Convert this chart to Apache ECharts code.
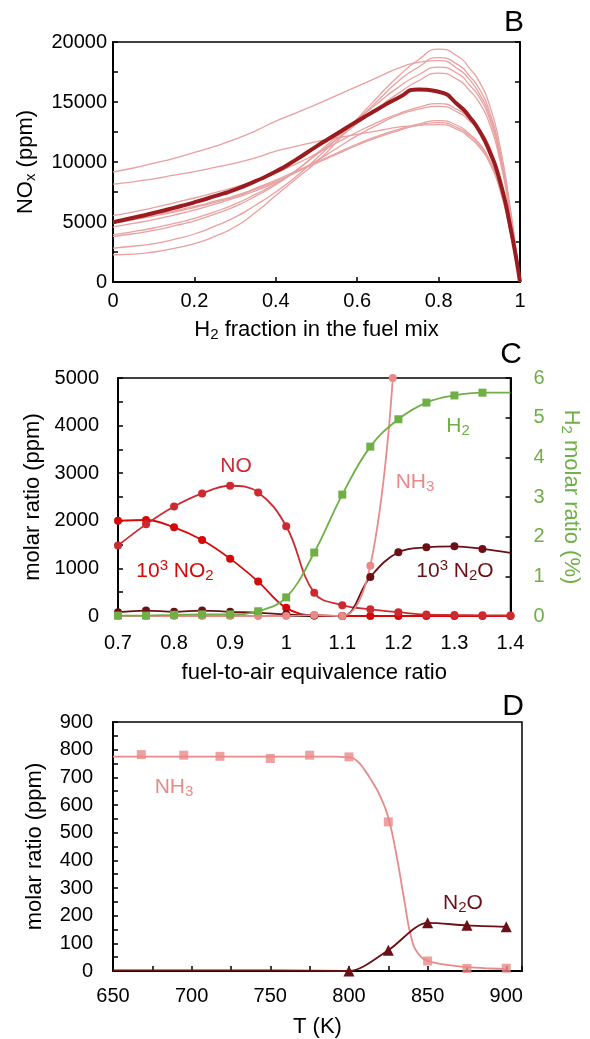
<!DOCTYPE html>
<html>
<head>
<meta charset="utf-8">
<script src="https://cdn.jsdelivr.net/npm/echarts@6/dist/echarts.min.js"></script>
<style>
html,body{margin:0;padding:0;background:#ffffff;}
#chart{width:590px;height:1039px;}
</style>
</head>
<body>
<div id="chart"></div>
<script>
// ---------------- Panel B data (NOx, ppm) ----------------
const h2Fraction = [0, 0.05, 0.1, 0.15, 0.2, 0.25, 0.3, 0.35, 0.4, 0.45, 0.5, 0.55, 0.6, 0.65, 0.7, 0.75, 0.8, 0.85, 0.875, 0.9, 0.925, 0.95, 0.975, 1];
const noxMean  = [4970, 5350, 5750, 6180, 6640, 7150, 7700, 8400, 9200, 10200, 11300, 12350, 13390, 14400, 15330, 16050, 15850, 14700, 13800, 12600, 10900, 8500, 4800, 0];
const noxRun1  = [9170, 9500, 9900, 10300, 10800, 11300, 11900, 12600, 13400, 14100, 14800, 15550, 16300, 17050, 17800, 18300, 18450, 17700, 16900, 15700, 13900, 10800, 6100, 0];
const noxRun2  = [8160, 8350, 8600, 8900, 9200, 9550, 9900, 10350, 10900, 11300, 11700, 12000, 12300, 12600, 12900, 13050, 13120, 12650, 12050, 11250, 9950, 7750, 4350, 0];
const noxRun3  = [5525, 5850, 6200, 6600, 7000, 7450, 7900, 8450, 9100, 9850, 10700, 11600, 12500, 13300, 14000, 14550, 14860, 14300, 13650, 12750, 11300, 8750, 4900, 0];
const noxRun4  = [4580, 4880, 5200, 5580, 6000, 6480, 7000, 7600, 8300, 9150, 10100, 11150, 12200, 13100, 13900, 14400, 14640, 14100, 13450, 12550, 11100, 8600, 4850, 0];
const noxRun5  = [3940, 4200, 4500, 4880, 5300, 5850, 6500, 7300, 8200, 9300, 10600, 11900, 13200, 14500, 15700, 16750, 17400, 16800, 16000, 14950, 13200, 10250, 5750, 0];
const noxRun6  = [3800, 4020, 4300, 4670, 5100, 5650, 6300, 7150, 8100, 9300, 10700, 12100, 13500, 14900, 16200, 17250, 17900, 17300, 16450, 15400, 13600, 10550, 5900, 0];
const noxRun7  = [2830, 2980, 3200, 3550, 4000, 4650, 5400, 6400, 7500, 8800, 10300, 11900, 13500, 15100, 16700, 17900, 18700, 18050, 17200, 16100, 14200, 11000, 6200, 0];
const noxRun8  = [2270, 2330, 2500, 2800, 3200, 3800, 4600, 5800, 7200, 8600, 10000, 11700, 13600, 15400, 17100, 18500, 19400, 18750, 17850, 16700, 14750, 11450, 6400, 0];
const noxRun9  = [5100, 5330, 5600, 5930, 6300, 6730, 7200, 7800, 8500, 9250, 10000, 10750, 11500, 12150, 12700, 13150, 13450, 12980, 12350, 11550, 10200, 7950, 4450, 0];
const noxRun10 = [4900, 5180, 5500, 5830, 6200, 6630, 7100, 7720, 8400, 9150, 9900, 10650, 11400, 12050, 12600, 13050, 13280, 12800, 12200, 11400, 10100, 7850, 4400, 0];
const noxRuns = [noxRun1, noxRun2, noxRun3, noxRun4, noxRun5, noxRun6, noxRun7, noxRun8, noxRun9, noxRun10];

// ---------------- Panel C data ----------------
const phi = [0.7, 0.75, 0.8, 0.85, 0.9, 0.95, 1.0, 1.05, 1.1, 1.15, 1.2, 1.25, 1.3, 1.35, 1.4];
const noPpm    = [1480, 1925, 2300, 2575, 2736, 2596, 1885, 486, 227, 140, 80, 30, 20, 15, 10];
const no2x1000 = [2002, 2017, 1862, 1597, 1205, 723, 171, 10, 0, 0, 0, 0, 0, 0, 0];
const n2ox1000 = [80, 115, 88, 115, 88, 67, 35, 12, 0, 821, 1338, 1443, 1464, 1409, 1325];
const phiNh3 = [0.7, 0.75, 0.8, 0.85, 0.9, 0.95, 1.0, 1.05, 1.1, 1.15, 1.19];
const nh3Ppm = [0, 0, 0, 0, 0, 0, 0, 20, 0, 1057, 5000];
const h2Pct  = [0.01, 0.01, 0.03, 0.04, 0.04, 0.12, 0.47, 1.6, 3.06, 4.27, 4.96, 5.38, 5.56, 5.63, 5.63];

// ---------------- Panel D data ----------------
const tNh3 = [668, 695, 718, 750, 775, 800, 825, 850, 875, 900];
const nh3D = [782, 780, 776, 768, 780, 774, 539, 36, 9, 10];
const tNh3Fit = [650, 700, 750, 790, 800, 805, 810, 815, 820, 825, 830, 835, 840, 845, 850, 855, 860, 870, 880, 890, 900];
const nh3Fit  = [775, 775, 775, 775, 772, 760, 726, 682, 630, 555, 425, 262, 112, 56, 37, 29, 24, 17, 12, 9, 7];
const tN2o = [650, 700, 750, 800, 825, 850, 875, 900];
const n2oD = [2, 2, 2, 0, 75, 174, 165, 160];

// ---------------- styling ----------------
const FONT = '"Liberation Sans", Arial, Helvetica, sans-serif';
const C_THICK = '#9B1B1F', C_THIN = '#E9A0A0';
const C_NO = '#CC2A30', C_NO2 = '#D60808', C_N2O = '#6B1016', C_NH3 = '#E88A88', C_H2 = '#6FAF45';
const FS = 20;   // tick labels
const FT = 22;   // axis titles
const FA = 21;   // in-plot annotations

function richFor(color, size) {
  return {
    n: {fontSize: size, fontFamily: FONT, color: color, fill: color},
    sub: {fontSize: Math.round(size * 0.7), fontFamily: FONT, color: color, fill: color, padding: [10, 0, 0, 0]},
    sup: {fontSize: Math.round(size * 0.7), fontFamily: FONT, color: color, fill: color, padding: [0, 0, 10, 0]}
  };
}
function txt(text, x, y, color, size) {
  return {
    type: 'text', x: x, y: y, z: 100,
    style: {
      text: text, fill: color, font: size + 'px ' + FONT, fontSize: size, fontFamily: FONT,
      align: 'center', verticalAlign: 'middle', textAlign: 'center', textVerticalAlign: 'middle',
      rich: richFor(color, size)
    }
  };
}
function pairs(xs, ys) { return xs.map((x, i) => [x, ys[i]]); }

const axisLineBlack = {show: true, onZero: false, lineStyle: {color: '#000', width: 2}};
const labelStyle = {color: '#000', fontSize: FS, fontFamily: FONT};
const tickIn = {show: true, inside: true, length: 5, lineStyle: {color: '#000', width: 1.5}};

const grids = [
  {left: 113, top: 42, width: 407, height: 240, show: true, borderColor: '#000', borderWidth: 1.5},
  {left: 118, top: 378, width: 406, height: 238, show: true, borderColor: '#000', borderWidth: 1.5},
  {left: 113, top: 722, width: 409, height: 251, show: true, borderColor: '#000', borderWidth: 1.5}
];

const xAxes = [
  {gridIndex: 0, type: 'value', min: 0, max: 1, interval: 0.2,
   axisLine: axisLineBlack, splitLine: {show: false}, axisTick: tickIn,
   axisLabel: Object.assign({margin: 9}, labelStyle),
   name: 'H{sub|2} fraction in the fuel mix', nameLocation: 'middle', nameGap: 35,
   nameTextStyle: {color: '#000', fontSize: FT, fontFamily: FONT, rich: richFor('#000', FT)}},
  {gridIndex: 1, type: 'value', min: 0.7, max: 1.4, interval: 0.1,
   axisLine: axisLineBlack, splitLine: {show: false}, axisTick: {show: false},
   axisLabel: Object.assign({margin: 17}, labelStyle),
   name: 'fuel-to-air equivalence ratio', nameLocation: 'middle', nameGap: 46,
   nameTextStyle: {color: '#000', fontSize: FT, fontFamily: FONT}},
  {gridIndex: 2, type: 'value', min: 650, max: 910, interval: 25,
   axisLine: axisLineBlack, splitLine: {show: false}, axisTick: tickIn,
   axisLabel: Object.assign({margin: 15, formatter: v => (v % 50 === 0 && v <= 900) ? String(v) : ''}, labelStyle),
   name: 'T (K)', nameLocation: 'middle', nameGap: 45,
   nameTextStyle: {color: '#000', fontSize: FT, fontFamily: FONT}}
];

const yAxes = [
  {gridIndex: 0, type: 'value', min: 0, max: 20000, interval: 2500, position: 'left',
   axisLine: axisLineBlack, splitLine: {show: false}, axisTick: tickIn,
   axisLabel: Object.assign({margin: 6, formatter: v => v % 5000 === 0 ? String(v) : ''}, labelStyle),
   name: 'NO{sub|x} (ppm)', nameLocation: 'middle', nameRotate: 90, nameGap: 75,
   nameTextStyle: {color: '#000', fontSize: FT, fontFamily: FONT, rich: richFor('#000', FT)}},
  {gridIndex: 0, type: 'value', min: 0, max: 6, interval: 1, position: 'right',
   axisLine: {show: true, onZero: false, lineStyle: {color: '#000', width: 2}}, splitLine: {show: false},
   axisTick: tickIn, axisLabel: {show: false}},
  {gridIndex: 1, type: 'value', min: 0, max: 5000, interval: 500, position: 'left',
   axisLine: axisLineBlack, splitLine: {show: false}, axisTick: tickIn,
   axisLabel: Object.assign({margin: 19, formatter: v => v % 1000 === 0 ? String(v) : ''}, labelStyle),
   name: 'molar ratio (ppm)', nameLocation: 'middle', nameRotate: 90, nameGap: 72,
   nameTextStyle: {color: '#000', fontSize: FT, fontFamily: FONT}},
  {gridIndex: 1, type: 'value', min: 0, max: 6, interval: 1, position: 'right',
   axisLine: {show: true, onZero: false, lineStyle: {color: '#000', width: 2}}, splitLine: {show: false},
   axisTick: tickIn,
   axisLabel: {color: C_H2, fontSize: FS, fontFamily: FONT, margin: 23},
   name: 'H{sub|2} molar ratio (%)', nameLocation: 'middle', nameRotate: -90, nameGap: 48,
   nameTextStyle: {color: C_H2, fontSize: FT, fontFamily: FONT, rich: richFor(C_H2, FT)}},
  {gridIndex: 2, type: 'value', min: 0, max: 900, interval: 50, position: 'left',
   axisLine: axisLineBlack, splitLine: {show: false}, axisTick: tickIn,
   axisLabel: Object.assign({margin: 20, formatter: v => v % 100 === 0 ? String(v) : ''}, labelStyle),
   name: 'molar ratio (ppm)', nameLocation: 'middle', nameRotate: 90, nameGap: 67,
   nameTextStyle: {color: '#000', fontSize: FT, fontFamily: FONT}}
];

const series = [];
// Panel B
noxRuns.forEach(run => series.push({
  type: 'line', xAxisIndex: 0, yAxisIndex: 0, data: pairs(h2Fraction, run), smooth: 0.6,
  showSymbol: false, lineStyle: {color: C_THIN, width: 1.3}, z: 2
}));
series.push({type: 'line', xAxisIndex: 0, yAxisIndex: 0, data: pairs(h2Fraction, noxMean), smooth: 0.6,
  showSymbol: false, lineStyle: {color: C_THICK, width: 4}, z: 3});

// Panel C
function cSeries(xs, ys, color, symbol, yIdx, hideLast) {
  const d = pairs(xs, ys).map((p, i) => (hideLast && i === xs.length - 1) ? {value: p, symbol: 'none'} : p);
  return {type: 'line', xAxisIndex: 1, yAxisIndex: yIdx, data: d, smooth: 0.4,
    symbol: symbol, symbolSize: 8, showAllSymbol: true,
    itemStyle: {color: color}, lineStyle: {color: color, width: 1.8}, z: 3};
}
series.push(cSeries(phi, no2x1000, C_NO2, 'circle', 2, false));
series.push(cSeries(phi, noPpm, C_NO, 'circle', 2, false));
series.push(cSeries(phi, n2ox1000, C_N2O, 'circle', 2, true));
series.push(cSeries(phiNh3, nh3Ppm, C_NH3, 'circle', 2, false));
series.push(cSeries(phi, h2Pct, C_H2, 'rect', 3, true));

// Panel D
series.push({type: 'line', xAxisIndex: 2, yAxisIndex: 4, data: pairs(tNh3Fit, nh3Fit), smooth: 0.5,
  showSymbol: false, lineStyle: {color: C_NH3, width: 1.8}, z: 3});
series.push({type: 'scatter', xAxisIndex: 2, yAxisIndex: 4, data: pairs(tNh3, nh3D),
  symbol: 'rect', symbolSize: 9, itemStyle: {color: C_NH3}, z: 4});
series.push({type: 'line', xAxisIndex: 2, yAxisIndex: 4,
  data: pairs(tN2o, n2oD).map((p, i) => i < 3 ? {value: p, symbol: 'none'} : p),
  smooth: 0.3, symbol: 'triangle', symbolSize: 11, showAllSymbol: true,
  itemStyle: {color: C_N2O}, lineStyle: {color: C_N2O, width: 1.8}, z: 5});

const graphics = [
  txt('B', 514, 23, '#000', 30),
  txt('C', 511, 355, '#000', 30),
  txt('D', 513, 707, '#000', 30),
  txt('NO', 236, 466, C_NO, FA),
  txt('10{sup|3} NO{sub|2}', 175, 571, C_NO2, FA),
  txt('NH{sub|3}', 415, 482, C_NH3, FA),
  txt('H{sub|2}', 458, 426, C_H2, FA),
  txt('10{sup|3} N{sub|2}O', 455, 571, C_N2O, FA),
  txt('NH{sub|3}', 174, 787, C_NH3, FA),
  txt('N{sub|2}O', 463, 903, C_N2O, FA)
];

const chart = echarts.init(document.getElementById('chart'), null, {renderer: 'canvas'});
chart.setOption({
  animation: false,
  backgroundColor: '#ffffff',
  grid: grids,
  xAxis: xAxes,
  yAxis: yAxes,
  series: series,
  graphic: graphics
});
</script>
</body>
</html>
